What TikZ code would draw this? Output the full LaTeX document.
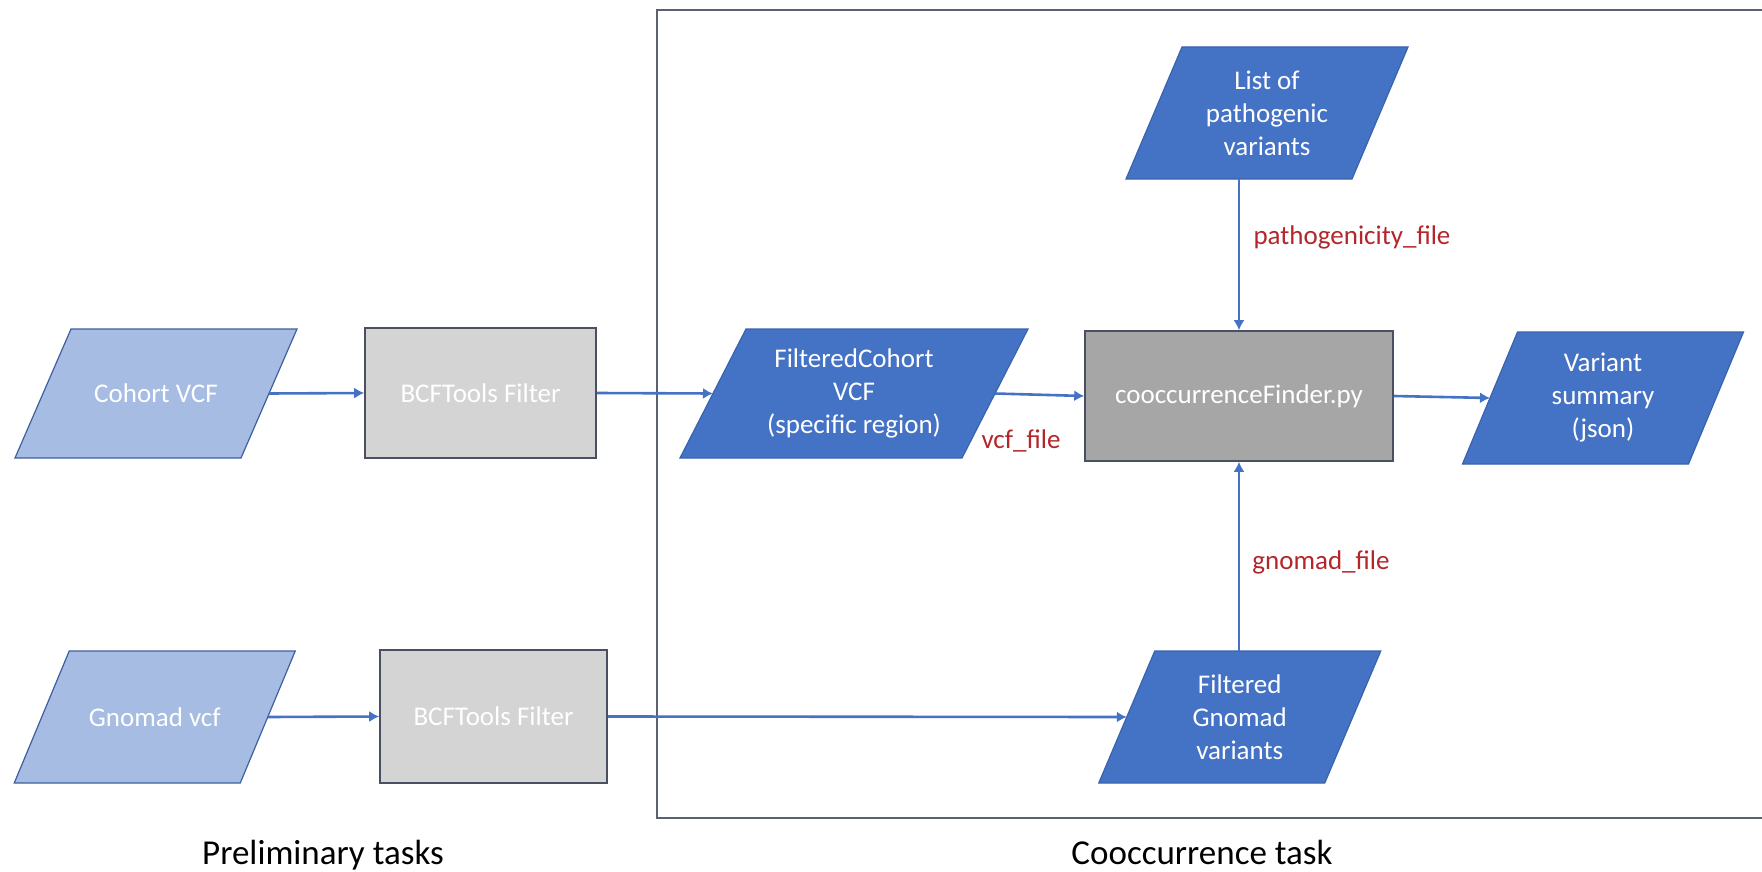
\documentclass[tikz,border=0pt]{standalone}
\usepackage{fontspec}
\setmainfont{Carlito}
\usetikzlibrary{arrows.meta,backgrounds}
\definecolor{lb}{HTML}{A6BCE3}
\definecolor{lbd}{HTML}{3F5F9E}
\definecolor{db}{HTML}{4472C4}
\definecolor{dbd}{HTML}{3A63AE}
\definecolor{lg}{HTML}{D4D4D4}
\definecolor{mg}{HTML}{A6A6A6}
\definecolor{boxd}{HTML}{4A5062}
\definecolor{arrowblue}{HTML}{4472C4}
\definecolor{lblred}{HTML}{B3262A}
\definecolor{framec}{HTML}{5B6170}
\newcommand\ndfont{\fontsize{13.5}{16.5}\selectfont}
\newcommand\capfont{\fontsize{17.5}{21}\selectfont}
\newcommand\paral[3]{\path[#3] ([xshift=#2]#1.north west) -- ([xshift=#2]#1.north east) -- ([xshift=-#2]#1.south east) -- ([xshift=-#2]#1.south west) -- cycle;}
\begin{document}
\begin{tikzpicture}[x=0.5pt,y=-0.5pt,
  para/.style={rectangle, draw=none, minimum width=113pt, minimum height=66pt,
    inner sep=0pt, outer sep=0pt, align=center, text=white, font=\ndfont},
  lshape/.style={fill=lb, draw=lbd, line width=0.6pt},
  dshape/.style={fill=db, draw=dbd, line width=0.6pt},
  procbox/.style={rectangle, draw=boxd, line width=0.8pt, text=white,
    font=\ndfont, inner sep=0pt, align=center},
  flow/.style={draw=arrowblue, line width=1.3pt, -{Latex[length=5pt,width=5.5pt]}},
  lbl/.style={text=lblred, font=\ndfont, inner sep=0pt, anchor=base},
  captext/.style={text=black, font=\capfont, inner sep=0pt, anchor=base}]
\useasboundingbox (0,0) rectangle (1762,872);

% frame
\draw[framec, line width=1pt] (1762,10) -| (657,818) -- (1762,818);

% nodes
\node[para, minimum height=64.5pt] (cohort) at (156,393.5) {Cohort VCF};
\node[para] (gnomad) at (154.75,717) {Gnomad vcf};
\node[procbox, fill=lg, minimum width=115.5pt, minimum height=65pt] (bcf1) at (480.5,393) {BCFTools Filter};
\node[procbox, fill=lg, minimum width=113.5pt, minimum height=66.5pt] (bcf2) at (493.5,716.5) {BCFTools Filter};
\node[para, minimum width=141pt, minimum height=64.5pt] (fcohort) at (854,393.5) {FilteredCohort\\VCF\\(specific region)};
\node[procbox, fill=mg, minimum width=154pt, minimum height=65pt] (cooc) at (1239,396) {cooccurrenceFinder.py};
\node[para] (vsum) at (1603,398) {Variant\\summary\\(json)};
\node[para] (lst) at (1267,113) {List of\\pathogenic\\variants};
\node[para] (fgnomad) at (1239.75,717) {Filtered\\Gnomad\\variants};

% parallelogram outlines behind the texts
\begin{scope}[on background layer]
\paral{cohort}{14pt}{lshape}
\paral{gnomad}{13.75pt}{lshape}
\paral{fcohort}{16.5pt}{dshape}
\paral{vsum}{13.75pt}{dshape}
\paral{lst}{14pt}{dshape}
\paral{fgnomad}{14pt}{dshape}
\end{scope}

% connectors
\draw[flow] (cohort.east) -- (bcf1.west);
\draw[flow] (bcf1.east) -- (fcohort.west);
\draw[flow] (fcohort.east) -- (cooc.west);
\draw[flow] (cooc.east) -- (vsum.west);
\draw[flow] (lst.south -| cooc.north) -- (cooc.north);
\draw[flow] (fgnomad.north -| cooc.south) -- (cooc.south);
\draw[flow] (gnomad.east) -- (bcf2.west);
\draw[flow] (bcf2.east) -- (fgnomad.west);

% labels
\node[lbl] (lvcf) at (1021,448) {vcf\_file};
\node[lbl] (lpath) at (1352,244) {pathogenicity\_file};
\node[lbl] (lgnom) at (1321,569) {gnomad\_file};
\node[captext] (cpre) at (323,864) {Preliminary tasks};
\node[captext] (ccoo) at (1202,864) {Cooccurrence task};
\end{tikzpicture}
\end{document}
